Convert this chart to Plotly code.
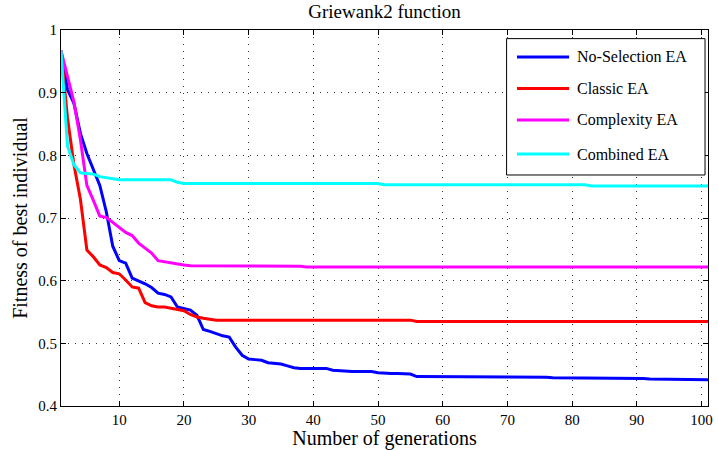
import plotly.graph_objects as go

generations = list(range(1, 102))

no_selection = [
    0.967, 0.905, 0.883, 0.835, 0.803, 0.778, 0.752, 0.710, 0.655, 0.632,
    0.628, 0.604, 0.600, 0.595, 0.589, 0.580, 0.578, 0.574, 0.558, 0.556,
    0.553, 0.545, 0.522, 0.519, 0.515, 0.512, 0.510, 0.494, 0.481, 0.475,
    0.474, 0.473, 0.469, 0.468, 0.467, 0.464, 0.461, 0.460, 0.460, 0.460,
    0.460, 0.460, 0.457, 0.456, 0.455, 0.455, 0.455, 0.455, 0.455, 0.453,
    0.452, 0.452, 0.452, 0.451, 0.451, 0.447, 0.447, 0.447, 0.447, 0.447,
    0.447, 0.447, 0.447, 0.447, 0.447, 0.447, 0.447, 0.447, 0.446, 0.446,
    0.446, 0.446, 0.446, 0.446, 0.446, 0.446, 0.445, 0.445, 0.445, 0.445,
    0.445, 0.445, 0.445, 0.445, 0.445, 0.445, 0.445, 0.444, 0.444, 0.444,
    0.444, 0.443, 0.443, 0.443, 0.443, 0.443, 0.442, 0.442, 0.442, 0.442,
    0.442,
]

classic = [
    0.967, 0.860, 0.785, 0.730, 0.649, 0.638, 0.625, 0.621, 0.613, 0.611,
    0.601, 0.590, 0.588, 0.565, 0.560, 0.558, 0.558, 0.556, 0.553, 0.552,
    0.546, 0.542, 0.540, 0.538, 0.537, 0.537, 0.537, 0.537, 0.537, 0.537,
    0.537, 0.537, 0.537, 0.537, 0.537, 0.537, 0.537, 0.537, 0.537, 0.537,
    0.537, 0.537, 0.537, 0.537, 0.537, 0.537, 0.537, 0.537, 0.537, 0.537,
    0.537, 0.537, 0.537, 0.537, 0.537, 0.535, 0.535, 0.535, 0.535, 0.535,
    0.535, 0.535, 0.535, 0.535, 0.535, 0.535, 0.535, 0.535, 0.535, 0.535,
    0.535, 0.535, 0.535, 0.535, 0.535, 0.535, 0.535, 0.535, 0.535, 0.535,
    0.535, 0.535, 0.535, 0.535, 0.535, 0.535, 0.535, 0.535, 0.535, 0.535,
    0.535, 0.535, 0.535, 0.535, 0.535, 0.535, 0.535, 0.535, 0.535, 0.535,
    0.535,
]

complexity = [
    0.967, 0.925, 0.885, 0.825, 0.752, 0.728, 0.703, 0.701, 0.693, 0.685,
    0.677, 0.672, 0.660, 0.652, 0.644, 0.632, 0.630, 0.629, 0.627, 0.625,
    0.624, 0.624, 0.624, 0.624, 0.624, 0.624, 0.624, 0.624, 0.624, 0.623,
    0.623, 0.623, 0.623, 0.623, 0.623, 0.623, 0.623, 0.623, 0.622, 0.622,
    0.622, 0.622, 0.622, 0.622, 0.622, 0.622, 0.622, 0.622, 0.622, 0.622,
    0.622, 0.622, 0.622, 0.622, 0.622, 0.622, 0.622, 0.622, 0.622, 0.622,
    0.622, 0.622, 0.622, 0.622, 0.622, 0.622, 0.622, 0.622, 0.622, 0.622,
    0.622, 0.622, 0.622, 0.622, 0.622, 0.622, 0.622, 0.622, 0.622, 0.622,
    0.622, 0.622, 0.622, 0.622, 0.622, 0.622, 0.622, 0.622, 0.622, 0.622,
    0.622, 0.622, 0.622, 0.622, 0.622, 0.622, 0.622, 0.622, 0.622, 0.622,
    0.622,
]

combined = [
    0.967, 0.815, 0.785, 0.772, 0.771, 0.770, 0.766, 0.764, 0.762, 0.761,
    0.761, 0.761, 0.761, 0.761, 0.761, 0.761, 0.761, 0.761, 0.757, 0.755,
    0.755, 0.755, 0.755, 0.755, 0.755, 0.755, 0.755, 0.755, 0.755, 0.755,
    0.755, 0.755, 0.755, 0.755, 0.755, 0.755, 0.755, 0.755, 0.755, 0.755,
    0.755, 0.755, 0.755, 0.755, 0.755, 0.755, 0.755, 0.755, 0.755, 0.755,
    0.753, 0.753, 0.753, 0.753, 0.753, 0.753, 0.753, 0.753, 0.753, 0.753,
    0.753, 0.753, 0.753, 0.753, 0.753, 0.753, 0.753, 0.753, 0.753, 0.753,
    0.753, 0.753, 0.753, 0.753, 0.753, 0.753, 0.753, 0.753, 0.753, 0.753,
    0.753, 0.753, 0.751, 0.751, 0.751, 0.751, 0.751, 0.751, 0.751, 0.751,
    0.751, 0.751, 0.751, 0.751, 0.751, 0.751, 0.751, 0.751, 0.751, 0.751,
    0.751,
]

series_names = ["No-Selection EA", "Classic EA", "Complexity EA", "Combined EA"]
series_values = [no_selection, classic, complexity, combined]
series_colors = ["#0000FF", "#FF0000", "#FF00FF", "#00FFFF"]

x_ticks = [10, 20, 30, 40, 50, 60, 70, 80, 90, 100]
y_ticks = [0.4, 0.5, 0.6, 0.7, 0.8, 0.9, 1.0]
y_tick_labels = ["0.4", "0.5", "0.6", "0.7", "0.8", "0.9", "1"]

FONT = "Liberation Serif, Times New Roman, serif"

fig = go.Figure()
for name, vals, col in zip(series_names, series_values, series_colors):
    fig.add_trace(go.Scatter(
        x=generations, y=vals, mode="lines", name=name,
        line=dict(color=col, width=3),
        showlegend=False,
    ))

axis_common = dict(
    showline=True, linecolor="black", linewidth=1, mirror="ticks",
    ticks="inside", ticklen=5, tickcolor="black", tickwidth=1,
    showgrid=True, gridcolor="#333333", gridwidth=1, griddash="1px,6px",
    zeroline=False,
    tickfont=dict(family=FONT, size=15, color="black"),
)

fig.update_xaxes(
    range=[1, 101], tickvals=x_ticks,
    title=dict(text="Number of generations", font=dict(family=FONT, size=20, color="black"), standoff=2),
    **axis_common,
)
fig.update_yaxes(
    range=[0.4, 1.0], tickvals=y_ticks, ticktext=y_tick_labels,
    title=dict(text="Fitness of best individual", font=dict(family=FONT, size=20, color="black"), standoff=5),
    **axis_common,
)

# Legend drawn as a boxed key in plot-area coordinates (MATLAB style)
leg_x0, leg_x1, leg_y0, leg_y1 = 0.6887, 0.9954, 0.6144, 0.9771
item_y = [0.9282, 0.8441, 0.7606, 0.6702]
shapes = [dict(type="rect", xref="paper", yref="paper", x0=leg_x0, x1=leg_x1, y0=leg_y0, y1=leg_y1,
               line=dict(color="black", width=1), fillcolor="white", layer="above")]
annotations = []
for name, col, yy in zip(series_names, series_colors, item_y):
    shapes.append(dict(type="line", xref="paper", yref="paper", x0=0.7048, x1=0.7853, y0=yy, y1=yy,
                       line=dict(color=col, width=3), layer="above"))
    annotations.append(dict(text=name, xref="paper", yref="paper", x=0.7939, y=yy,
                            xanchor="left", yanchor="middle", showarrow=False,
                            font=dict(family=FONT, size=16, color="black")))

fig.update_layout(
    width=718, height=450,
    margin=dict(l=61, r=5, t=30, b=44),
    paper_bgcolor="white", plot_bgcolor="white",
    title=dict(text="Griewank2 function", xref="paper", x=0.5, xanchor="center",
               yref="container", y=0.99, yanchor="top",
               font=dict(family=FONT, size=19, color="black")),
    shapes=shapes,
    annotations=annotations,
    showlegend=False,
)

fig.write_html("out.html")
